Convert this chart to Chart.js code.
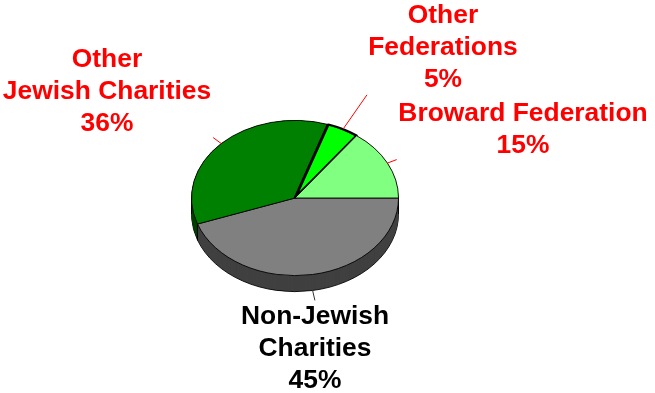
<!DOCTYPE html>
<html><head><meta charset="utf-8">
<script src="https://cdn.jsdelivr.net/npm/chart.js@4/dist/chart.umd.min.js"></script>
<style>html,body{margin:0;padding:0;background:#fff}#w{width:655px;height:393px;position:relative}</style>
</head><body><div id="w"><canvas id="c" width="655" height="393"></canvas></div>
<script>
const categories = ["Non-Jewish Charities", "Other Jewish Charities", "Other Federations", "Broward Federation"];
const values = [45, 36, 5, 15];
const colors = ["#808080", "#008000", "#00FF00", "#80FF80"];
const sideColors = ["#404040", "#004000", "#008000", "#408040"];
const textColors = ["#000000", "#FF0000", "#FF0000", "#FF0000"];
const labelLines = [["Non-Jewish", "Charities", "45%"], ["Other", "Jewish Charities", "36%"], ["Other", "Federations", "5%"], ["Broward Federation", "15%"]];
const labelAnchors = [[315, 317], [107, 60], [443, 16], [523, 114]];
const leaderReach = [1.13, 1.11, 1.5, 1.1];
const squash = 0.75, depth = 16, lineGap = 32;

const pie3d = {
  id: "pie3d",
  beforeDatasetsDraw(chart) {
    const ctx = chart.ctx, arcs = chart.getDatasetMeta(0).data;
    const cx = arcs[0].x, cy = arcs[0].y, r = arcs[0].outerRadius;
    const drawAll = (dy, fill) => {
      ctx.save();
      ctx.translate(cx, cy + dy);
      ctx.scale(1, squash);
      ctx.translate(-cx, -cy);
      arcs.forEach((a, i) => {
        const o = a.options;
        a.options = Object.assign({}, o, fill(i));
        a.draw(ctx);
        a.options = o;
      });
      ctx.restore();
    };
    drawAll(depth, i => ({backgroundColor: sideColors[i], borderColor: "#000", borderWidth: 1}));
    for (let d = depth - 1; d >= 0; d--) {
      drawAll(d, i => ({backgroundColor: sideColors[i], borderColor: sideColors[i], borderWidth: 0}));
    }
    ctx.save();
    ctx.strokeStyle = "#000"; ctx.lineWidth = 1;
    const a = arcs[0].endAngle;
    const bx = cx + r * Math.cos(a), by = cy + r * squash * Math.sin(a);
    [[cx - r, cy], [cx + r, cy], [bx, by]].forEach(p => {
      ctx.beginPath(); ctx.moveTo(p[0], p[1]); ctx.lineTo(p[0], p[1] + depth); ctx.stroke();
    });
    ctx.restore();
    ctx.save();
    ctx.translate(cx, cy);
    ctx.scale(1, squash);
    ctx.translate(-cx, -cy);
  },
  afterDatasetsDraw(chart) {
    const ctx = chart.ctx, arcs = chart.getDatasetMeta(0).data;
    ctx.restore();
    ctx.save();
    arcs.forEach((a, i) => {
      const m = (a.startAngle + a.endAngle) / 2, r = a.outerRadius;
      const c = Math.cos(m), s = Math.sin(m);
      const off = s > 0 ? depth : 0;
      ctx.strokeStyle = i === 0 ? "#333" : "#FF0000";
      ctx.lineWidth = 1;
      ctx.beginPath();
      ctx.moveTo(a.x + r * c, a.y + r * squash * s + off);
      ctx.lineTo(a.x + r * leaderReach[i] * c, a.y + r * leaderReach[i] * squash * s + off);
      ctx.stroke();
    });
    ctx.font = "bold 26.4px 'Liberation Sans', Arial, sans-serif";
    ctx.textAlign = "center";
    ctx.textBaseline = "middle";
    labelLines.forEach((lines, i) => {
      ctx.fillStyle = textColors[i];
      lines.forEach((t, j) => ctx.fillText(t, labelAnchors[i][0], labelAnchors[i][1] + j * lineGap));
    });
    ctx.restore();
  }
};

new Chart(document.getElementById("c"), {
  type: "pie",
  data: {labels: categories, datasets: [{data: values, backgroundColor: colors, borderColor: "#000", borderWidth: [1, 1, 3, 1]}]},
  options: {
    responsive: false,
    animation: false,
    rotation: 90,
    layout: {padding: {left: 190, right: 255, top: 93, bottom: 90}},
    plugins: {legend: {display: false}, tooltip: {enabled: false}, title: {display: false}}
  },
  plugins: [pie3d]
});
</script></body></html>
